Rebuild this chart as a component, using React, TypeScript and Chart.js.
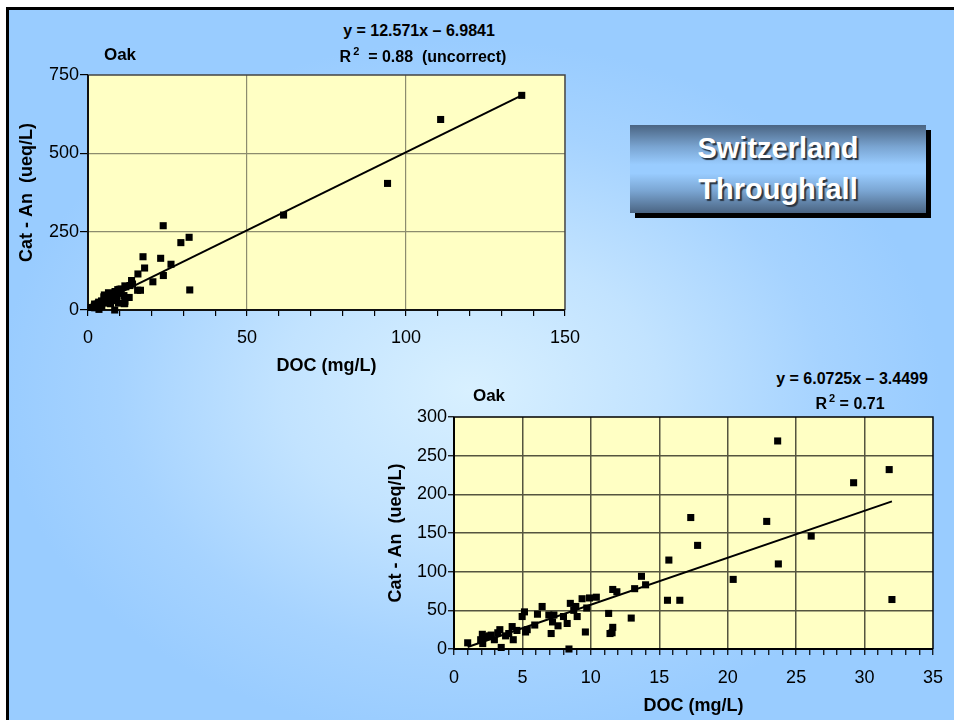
import React, { useEffect, useRef } from 'react';
import { Chart, registerables } from 'chart.js';

Chart.register(...registerables);

const FONT = "'Liberation Sans', Arial, Helvetica, sans-serif";

// ---- Data (Oak throughfall, Switzerland) ----
const docOak = [1.0, 1.95, 2.07, 2.1, 2.43, 2.6, 2.72, 2.95, 3.2, 3.35, 3.45, 3.77, 4.0, 4.25, 4.33, 4.6, 4.98, 5.15, 5.23, 5.35, 5.9, 6.1, 6.44, 6.93, 7.1, 7.2, 7.3, 7.6, 8.0, 8.27, 8.4, 8.5, 8.75, 8.9, 9.0, 9.36, 9.6, 9.7, 9.9, 10.4, 11.3, 11.4, 11.55, 11.6, 11.6, 11.9, 12.95, 13.2, 13.7, 14.0, 15.6, 15.7, 16.5, 17.3, 17.8, 20.4, 22.85, 23.65, 23.7, 26.1, 29.2, 31.8, 32.0];
const catAnOak = [8, 12, 19, 7, 16, 17, 18, 12, 21, 25, 2, 17, 20, 29, 12, 24, 42, 48, 22, 25, 31, 45, 55, 44, 20, 35, 44, 30, 42, 33, 0, 59, 50, 55, 42, 65, 22, 53, 66, 67, 46, 20, 21, 28, 77, 74, 40, 78, 94, 83, 63, 115, 63, 170, 134, 90, 165, 269, 110, 146, 215, 232, 64];
const docOakHigh = [61.5, 94.2, 110.9, 136.4];
const catAnOakHigh = [303, 404, 608, 685];

// trend-line end points as drawn
const trendAllX = [1.0, 136.4];
const trendAllY = [10, 685];
const trendLowX = [1.0, 32.0];
const trendLowY = [2.6, 190.9];

// axis settings
const xTicksAll = { max: 150, step: 10, major: 50 };
const yTicksAll = { max: 750, step: 250 };
const xTicksLow = { max: 35, step: 1, major: 5 };
const yTicksLow = { max: 300, step: 50 };

const eq1 = 'y = 12.571x \u2013 6.9841';
const r2_1 = ' = 0.88  (uncorrect)';
const eq2 = 'y = 6.0725x \u2013 3.4499';
const r2_2 = ' = 0.71';

const pts = (xs: number[], ys: number[]) => xs.map((x, i) => ({ x, y: ys[i] }));

const plotFrame = {
  id: 'plotFrame',
  beforeDraw(chart: any, _a: any, opts: any) {
    const { ctx, chartArea: a } = chart;
    ctx.save();
    ctx.fillStyle = opts.fill;
    ctx.fillRect(a.left, a.top, a.right - a.left, a.bottom - a.top);
    ctx.restore();
  },
  beforeDatasetsDraw(chart: any, _a: any, opts: any) {
    const { ctx, chartArea: a } = chart;
    ctx.save();
    ctx.lineWidth = opts.frameWidth;
    ctx.strokeStyle = opts.frameColor;
    ctx.beginPath();
    ctx.moveTo(a.left, a.top);
    ctx.lineTo(a.right, a.top);
    ctx.lineTo(a.right, a.bottom);
    ctx.stroke();
    ctx.lineWidth = opts.axisWidth;
    ctx.strokeStyle = opts.axisColor;
    ctx.beginPath();
    ctx.moveTo(a.left, a.top);
    ctx.lineTo(a.left, a.bottom);
    ctx.lineTo(a.right, a.bottom);
    ctx.stroke();
    ctx.restore();
  },
};

interface Cfg {
  points: { x: number; y: number }[];
  trend: { x: number; y: number }[];
  xt: { max: number; step: number; major: number };
  yt: { max: number; step: number };
  yAxisWidth: number;
  xAxisHeight: number;
  padTop: number;
  padRight: number;
  gridColor: string;
  gridWidth: number;
  frameColor: string;
  axisColor: string;
  yTickLen: number;
  xTickLen: number;
  yTitlePad: number;
  xTitlePad: number;
  xTickPad: number;
  yTickPad: number;
  yTitle: string;
}

function makeConfig(c: Cfg): any {
  return {
    type: 'scatter',
    data: {
      datasets: [
        {
          data: c.points,
          pointStyle: 'rect',
          pointRadius: 5,
          pointHoverRadius: 5,
          backgroundColor: '#000',
          borderColor: '#000',
          borderWidth: 0,
          clip: false,
        },
        {
          data: c.trend,
          showLine: true,
          borderColor: '#000',
          borderWidth: 2,
          pointRadius: 0,
          fill: false,
          clip: false,
        },
      ],
    },
    options: {
      responsive: false,
      animation: false,
      layout: { padding: { top: c.padTop, right: c.padRight, left: 0, bottom: 0 } },
      plugins: {
        legend: { display: false },
        tooltip: { enabled: false },
        plotFrame: {
          fill: '#FFFFC4',
          frameColor: c.frameColor,
          frameWidth: 1.5,
          axisColor: c.axisColor,
          axisWidth: 2,
        },
      },
      scales: {
        x: {
          type: 'linear',
          min: 0,
          max: c.xt.max,
          afterFit: (s: any) => {
            s.height = c.xAxisHeight;
          },
          border: { display: false },
          ticks: {
            stepSize: c.xt.step,
            autoSkip: false,
            maxRotation: 0,
            minRotation: 0,
            padding: c.xTickPad,
            color: '#000',
            font: { family: FONT, size: 18 },
            callback: (v: any) => (Math.abs(Number(v) % c.xt.major) < 1e-9 ? String(v) : ''),
          },
          grid: {
            color: (ctx: any) => {
              const v = ctx.tick ? ctx.tick.value : null;
              return v != null && Math.abs(v % c.xt.major) < 1e-9 && v > 0 && v < c.xt.max
                ? c.gridColor
                : 'rgba(0,0,0,0)';
            },
            lineWidth: c.gridWidth,
            tickColor: '#000',
            tickLength: c.xTickLen,
            tickWidth: 1.2,
          },
          title: {
            display: true,
            text: 'DOC (mg/L)',
            color: '#000',
            font: { family: FONT, size: 18, weight: 'bold' },
            padding: c.xTitlePad,
          },
        },
        y: {
          type: 'linear',
          min: 0,
          max: c.yt.max,
          afterFit: (s: any) => {
            s.width = c.yAxisWidth;
          },
          border: { display: false },
          ticks: {
            stepSize: c.yt.step,
            padding: c.yTickPad,
            color: '#000',
            font: { family: FONT, size: 18 },
          },
          grid: {
            color: (ctx: any) => {
              const v = ctx.tick ? ctx.tick.value : null;
              return v != null && v > 0 && v < c.yt.max ? c.gridColor : 'rgba(0,0,0,0)';
            },
            lineWidth: c.gridWidth,
            tickColor: '#000',
            tickLength: c.yTickLen,
            tickWidth: 1.2,
          },
          title: {
            display: true,
            text: c.yTitle,
            color: '#000',
            font: { family: FONT, size: 18, weight: 'bold' },
            padding: c.yTitlePad,
          },
        },
      },
    },
    plugins: [plotFrame],
  };
}

const abs = (left: number, top: number, extra: React.CSSProperties = {}): React.CSSProperties => ({
  position: 'absolute',
  left,
  top,
  ...extra,
});

const centered = (cx: number, cy: number, size: number): React.CSSProperties => ({
  position: 'absolute',
  left: cx,
  top: cy,
  transform: 'translate(-50%, -50%)',
  whiteSpace: 'pre',
  fontFamily: FONT,
  fontWeight: 'bold',
  fontSize: size,
  color: '#000',
  lineHeight: 1,
});

export default function App() {
  const c1 = useRef<HTMLCanvasElement>(null);
  const c2 = useRef<HTMLCanvasElement>(null);

  useEffect(() => {
    document.documentElement.style.overflow = 'hidden';
    const allPoints = pts(docOak, catAnOak).concat(pts(docOakHigh, catAnOakHigh));
    const ch1 = new Chart(
      c1.current as HTMLCanvasElement,
      makeConfig({
        points: allPoints,
        trend: pts(trendAllX, trendAllY),
        xt: xTicksAll,
        yt: yTicksAll,
        yAxisWidth: 76,
        xAxisHeight: 75,
        padTop: 14,
        padRight: 16,
        gridColor: '#8c8c6e',
        gridWidth: 1.2,
        frameColor: '#444',
        axisColor: '#111',
        yTickLen: 8,
        xTickLen: 6,
        yTitlePad: 4,
        xTitlePad: 8,
        xTickPad: 11,
        yTickPad: 1,
        yTitle: 'Cat - An  (ueq/L)',
      })
    );
    const ch2 = new Chart(
      c2.current as HTMLCanvasElement,
      makeConfig({
        points: pts(docOak, catAnOak),
        trend: pts(trendLowX, trendLowY),
        xt: xTicksLow,
        yt: yTicksLow,
        yAxisWidth: 74,
        xAxisHeight: 71,
        padTop: 14,
        padRight: 14,
        gridColor: '#55553f',
        gridWidth: 1.5,
        frameColor: '#000',
        axisColor: '#000',
        yTickLen: 6,
        xTickLen: 6,
        yTitlePad: 5,
        xTitlePad: 3,
        xTickPad: 12,
        yTickPad: 1,
        yTitle: 'Cat - An  (ueq/L)',
      })
    );
    return () => {
      ch1.destroy();
      ch2.destroy();
    };
  }, []);

  return (
    <div style={{ position: 'absolute', left: 0, top: 0, width: 954, height: 720, overflow: 'hidden' }}>
      <div
        style={abs(6, 7, {
          width: 948,
          height: 713,
          boxSizing: 'border-box',
          borderTop: '3px solid #000',
          borderLeft: '3px solid #000',
          background:
            'radial-gradient(ellipse 470px 350px at 461px 380px, #d8f0ff 0%, #c2e3ff 40%, #a6d3ff 75%, #99ccff 100%)',
        })}
      />
      <canvas ref={c1} width={579} height={324} style={abs(12, 61, { width: 579, height: 324 })} />
      <canvas ref={c2} width={575} height={317} style={abs(380, 403, { width: 575, height: 317 })} />

      <div style={centered(120, 54, 17)}>Oak</div>
      <div style={centered(489, 395, 17)}>Oak</div>

      <div style={centered(419, 31, 16)}>{eq1}</div>
      <div style={centered(423, 57, 16)}>
        R<span style={{ fontSize: 11, position: 'relative', top: -7, marginLeft: 2 }}>2</span>
        {' ' + r2_1}
      </div>

      <div style={centered(852, 379, 16)}>{eq2}</div>
      <div style={centered(850, 404, 16)}>
        R<span style={{ fontSize: 11, position: 'relative', top: -7, marginLeft: 2 }}>2</span>
        {r2_2}
      </div>

      <div
        style={abs(630, 125, {
          width: 296,
          height: 88,
          background:
            'linear-gradient(to bottom, #4a6482 0%, #7aa5d2 25%, #99ccff 45%, #99ccff 55%, #7aa5d2 75%, #4a6482 100%)',
          boxShadow: '5px 5px 0 #000',
          display: 'flex',
          flexDirection: 'column',
          alignItems: 'center',
          justifyContent: 'center',
          color: '#fff',
          fontFamily: FONT,
          fontWeight: 'bold',
          fontSize: 29,
          lineHeight: '41px',
          textShadow: '2px 2px 1px #2a3440',
        })}
      >
        <div>Switzerland</div>
        <div>Throughfall</div>
      </div>
    </div>
  );
}
